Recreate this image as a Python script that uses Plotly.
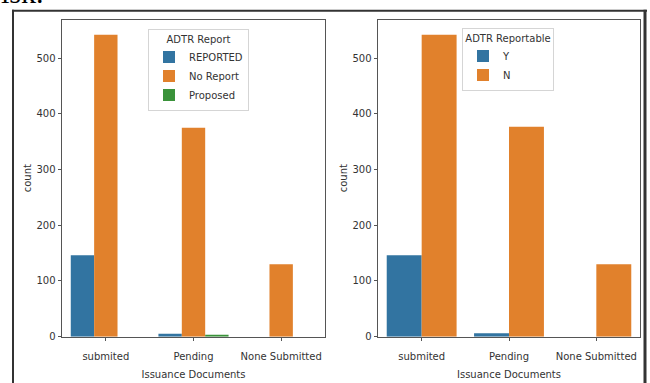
import plotly.graph_objects as go

# Issuance document status categories
categories = ["submited", "Pending", "None Submitted"]

# Counts split by "ADTR Report"
adtr_report_labels = ["REPORTED", "No Report", "Proposed"]
reported = [146, 5, None]
no_report = [542, 375, 130]
proposed = [None, 3, None]

# Counts split by "ADTR Reportable"
adtr_reportable_labels = ["Y", "N"]
reportable_y = [146, 6, None]
reportable_n = [542, 377, 130]

y_ticks = [0, 100, 200, 300, 400, 500]

# seaborn-style desaturated tab10 colours
BLUE = "#3274a1"
ORANGE = "#e1812c"
GREEN = "#3a923a"

W, H = 650, 383
FONT = "DejaVu Sans"
TXT = "#333333"

fig = go.Figure()

for name, vals, col in zip(adtr_report_labels, [reported, no_report, proposed], [BLUE, ORANGE, GREEN]):
    fig.add_trace(go.Bar(x=categories, y=vals, name=name, marker_color=col,
                         marker_line_width=0, xaxis="x", yaxis="y", legend="legend",
                         offsetgroup="l_" + name))

for name, vals, col in zip(adtr_reportable_labels, [reportable_y, reportable_n], [BLUE, ORANGE]):
    fig.add_trace(go.Bar(x=categories, y=vals, name=name, marker_color=col,
                         marker_line_width=0, xaxis="x2", yaxis="y2", legend="legend2",
                         offsetgroup="r_" + name))

def px_x(v):
    return v / W

def px_y(v):
    return 1 - v / H

axis_common = dict(
    showline=True, mirror=True, linecolor="#555555", linewidth=1,
    ticks="outside", ticklen=3.5, tickcolor="#555555", tickwidth=1,
    showgrid=False, zeroline=False,
    tickfont=dict(family=FONT, size=10, color=TXT),
    title_font=dict(family=FONT, size=10, color=TXT),
)

yrange = [0, 569.1]
fig.update_layout(
    width=W, height=H, autosize=False,
    margin=dict(l=0, r=0, t=0, b=0),
    paper_bgcolor="white", plot_bgcolor="white",
    barmode="group", bargap=0.2, bargroupgap=0,
    font=dict(family=FONT, size=10, color=TXT),
    xaxis=dict(domain=[px_x(62), px_x(325)], anchor="y", ticklabelstandoff=7,
               title=dict(text="Issuance Documents", standoff=9), **axis_common),
    yaxis=dict(domain=[px_y(342), px_y(20)], anchor="x", range=yrange,
               tickvals=y_ticks, title=dict(text="count", standoff=2), **axis_common),
    xaxis2=dict(domain=[px_x(378), px_x(640)], anchor="y2", ticklabelstandoff=7,
                title=dict(text="Issuance Documents", standoff=9), **axis_common),
    yaxis2=dict(domain=[px_y(342), px_y(20)], anchor="x2", range=yrange,
                tickvals=y_ticks, title=dict(text="count", standoff=2), **axis_common),
    legend=dict(x=px_x(148), y=px_y(29), xanchor="left", yanchor="top",
                bgcolor="white", bordercolor="#d5d5d5", borderwidth=1,
                font=dict(family=FONT, size=10, color=TXT),
                title=dict(text="ADTR Report", side="top center",
                           font=dict(family=FONT, size=10, color=TXT))),
    legend2=dict(x=px_x(462), y=px_y(28), xanchor="left", yanchor="top",
                 bgcolor="white", bordercolor="#d5d5d5", borderwidth=1,
                 font=dict(family=FONT, size=10, color=TXT),
                 title=dict(text="ADTR Reportable", side="top center",
                            font=dict(family=FONT, size=10, color=TXT))),
    showlegend=True,
)

# Page frame around both panels
frame = "#333333"
fig.add_shape(type="line", xref="paper", yref="paper",
              x0=px_x(13), x1=px_x(13), y0=px_y(10), y1=px_y(390),
              line=dict(color=frame, width=2))
fig.add_shape(type="line", xref="paper", yref="paper",
              x0=px_x(12), x1=px_x(647), y0=px_y(11), y1=px_y(11),
              line=dict(color=frame, width=2))
fig.add_shape(type="line", xref="paper", yref="paper",
              x0=px_x(645), x1=px_x(645), y0=px_y(10), y1=px_y(390),
              line=dict(color=frame, width=3))

# Tail of the preceding line of text
fig.add_annotation(text="isk.", xref="paper", yref="paper",
                   x=px_x(-1), y=px_y(4), xanchor="left", yanchor="bottom",
                   showarrow=False, yshift=-7,
                   font=dict(family="Liberation Serif", size=30, color="black"))

fig.write_html("out.html")
